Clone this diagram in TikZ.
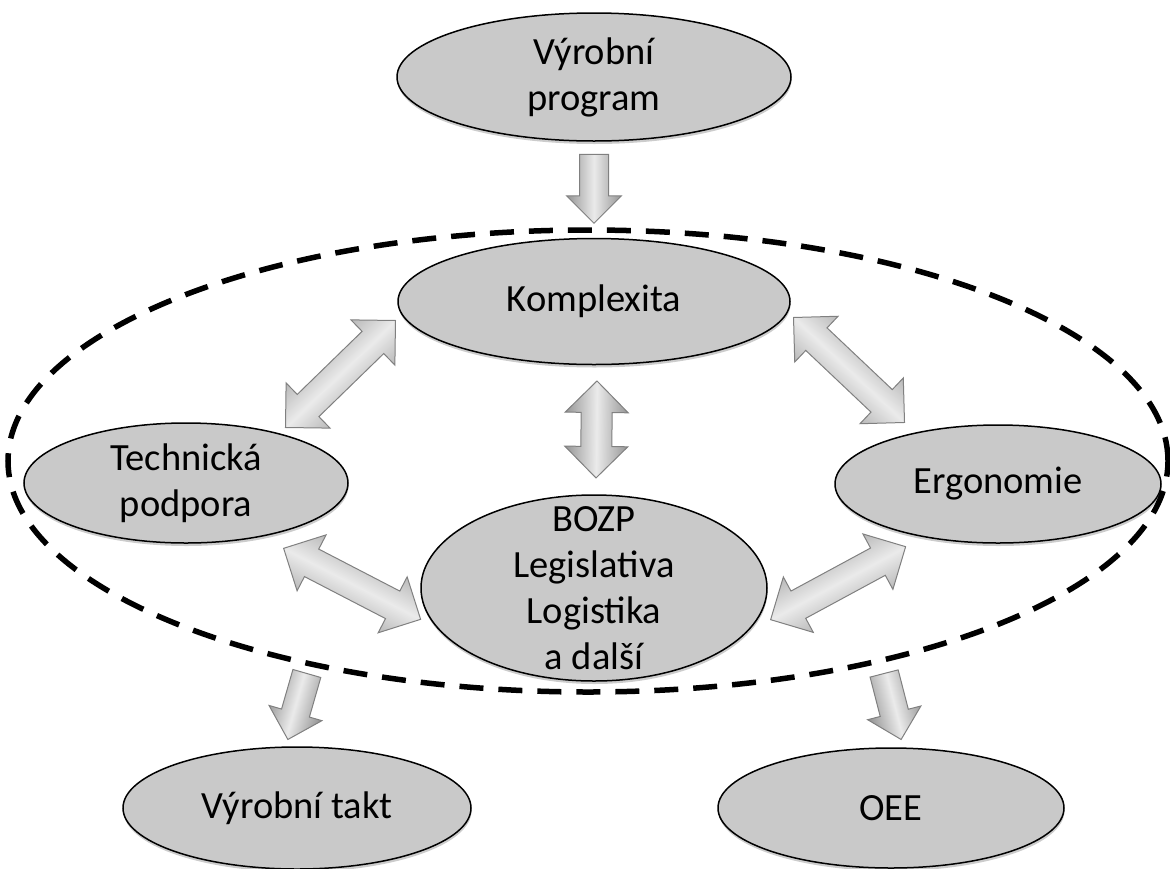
\documentclass[tikz,border=0pt]{standalone}
\usepackage{fontspec}
\setmainfont{Carlito}
\usetikzlibrary{positioning, shapes.geometric, shapes.arrows, calc, shadows}
\tikzset{
  elp/.style ={ellipse, draw, line width=1.5pt, fill=black!21, inner xsep=0pt, inner ysep=-30pt, align=center,
               font=\fontsize{38.5}{46}\selectfont,
               drop shadow={shadow xshift=0.5pt, shadow yshift=-3pt, opacity=0.2, fill=black}},
  zone/.style={ellipse, draw, line width=5.5pt, dash pattern=on 24pt off 15pt, inner sep=0pt,
               minimum width=1160pt, minimum height=462pt},
  barr/.style={draw=black!50, line width=1pt, shading=axis, top color=black!42, bottom color=black!42,
               middle color=black!8, inner xsep=0pt, minimum width=0pt},
  sarr/.style={barr, single arrow, inner ysep=14pt, single arrow head extend=13pt,
               single arrow head indent=0pt, anchor=tail},
  darr/.style={barr, double arrow, inner ysep=15pt, double arrow head extend=16pt,
               double arrow head indent=0pt, anchor=tip 2},
}
\newcommand\blockarr[3]{%
  \path let \p1=(#2), \p2=(#3), \n1={atan2(\y2-\y1,\x2-\x1)}, \n2={veclen(\x2-\x1,\y2-\y1)} in
    (#2) node[#1, rotate=\n1, shading angle=\n1, minimum height=\n2] {};}

\begin{document}
\begin{tikzpicture}[x=1pt, y=-1pt]
  \useasboundingbox (0,0) rectangle (1170,868);
  \node[zone] (zona) at (588,461) {};
  \node[elp, minimum width=394pt, minimum height=128pt] (vp) at (594,77) {Výrobní\\program};
  \node[elp, minimum width=392pt, minimum height=126pt, below=96pt of vp] (kom) {Komplexita};
  \node[elp, minimum width=346pt, minimum height=186pt, below=129pt of kom] (bozp) {BOZP\\Legislativa\\Logistika\\a další};
  \node[elp, minimum width=324pt, minimum height=120pt] (tech) at (186,483) {Technická\\podpora};
  \node[elp, minimum width=326pt, minimum height=118pt] (erg) at (998,484) {Ergonomie};
  \node[elp, minimum width=348pt, minimum height=122pt] (takt) at (297,808) {Výrobní takt};
  \node[elp, minimum width=346pt, minimum height=120pt] (oee) at (891,808) {OEE};
  % arrow ends
  \coordinate (p1) at ($(vp.south)+(0,12)$);
  \coordinate (p2) at ($(kom.north)+(0,-15)$);
  \coordinate (kb1) at ($(kom.south)+(3,15)$);
  \coordinate (kb2) at ($(bozp.north)+(2,-17)$);
  \coordinate (kt1) at (396,320);
  \coordinate (kt2) at (286,427);
  \coordinate (ke1) at (793,317);
  \coordinate (ke2) at (904,422);
  \coordinate (tb1) at (283,548);
  \coordinate (tb2) at (420,619);
  \coordinate (be1) at (770,620);
  \coordinate (be2) at (905,547);
  \coordinate (tt1) at (307,673);
  \coordinate (tt2) at (288,739);
  \coordinate (oe1) at (884,673);
  \coordinate (oe2) at (901,739);
  \blockarr{sarr}{p1}{p2}
  \blockarr{darr}{kb1}{kb2}
  \blockarr{darr}{kt1}{kt2}
  \blockarr{darr}{ke1}{ke2}
  \blockarr{darr}{tb1}{tb2}
  \blockarr{darr}{be1}{be2}
  \blockarr{sarr}{tt1}{tt2}
  \blockarr{sarr}{oe1}{oe2}
\end{tikzpicture}
\end{document}
